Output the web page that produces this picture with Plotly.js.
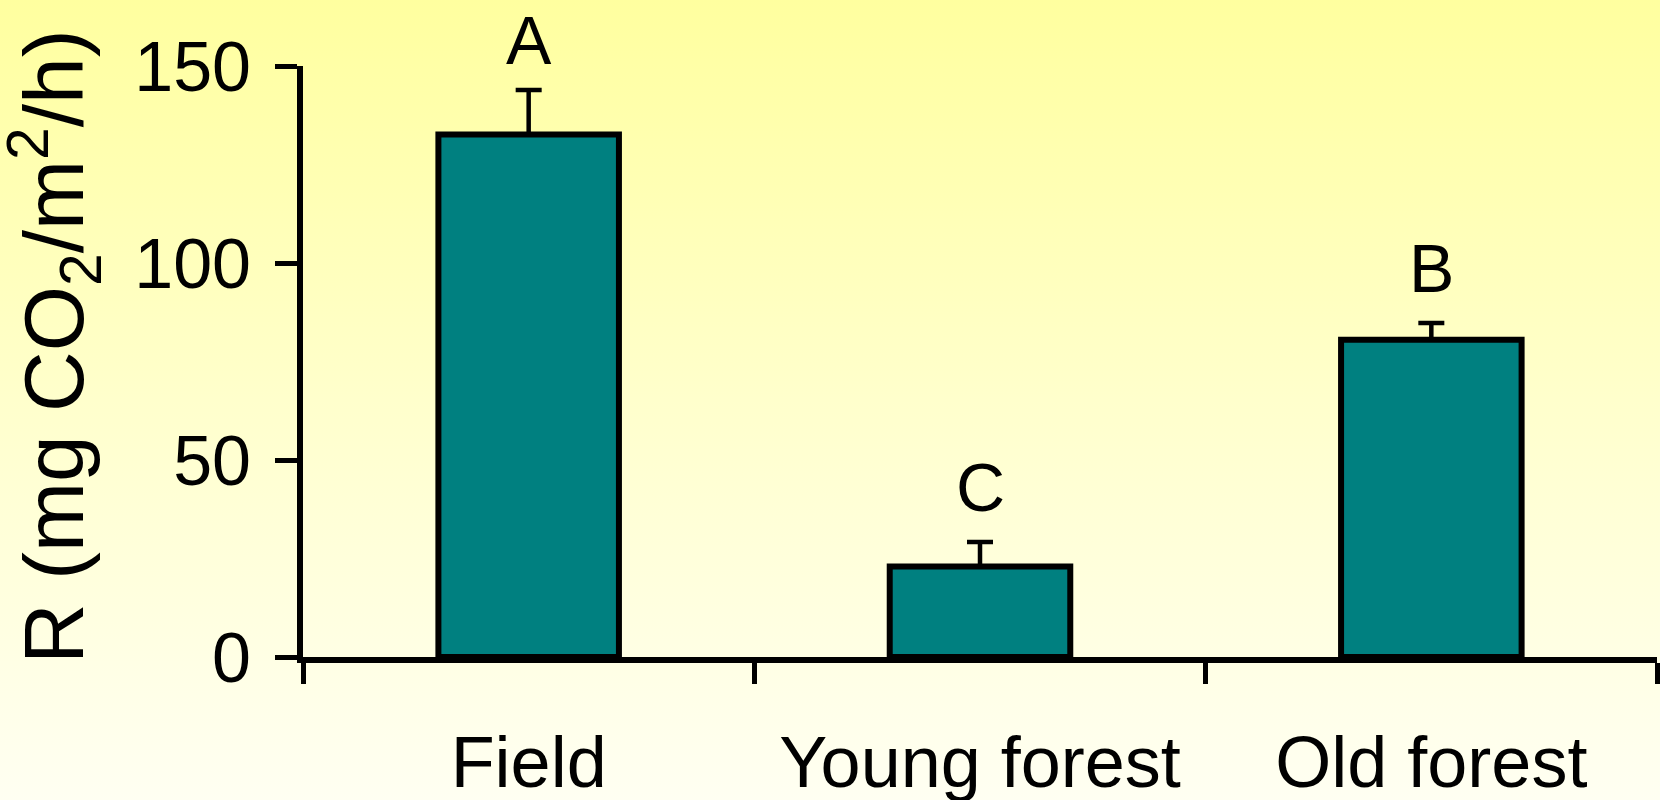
<!DOCTYPE html>
<html>
<head>
<meta charset="utf-8">
<script src="https://cdn.plot.ly/plotly-3.0.1.min.js"></script>
<style>
  html, body { margin: 0; padding: 0; }
  body { width: 1660px; height: 800px; background: linear-gradient(to bottom, #FFFF9F 0%, #FFFFCC 50%, #FFFFF2 100%); }
  #chart { width: 1660px; height: 800px; }
</style>
</head>
<body>
<div id="chart"></div>
<script>
const categories = ["Field", "Young forest", "Old forest"];
const values = [132.6, 23, 80.5];
const errors = [11.3, 6.2, 4.3];
const letters = ["A", "C", "B"];
const letterY = [156.6, 43.1, 98.7];
const yTicks = [0, 50, 100, 150];
const yMax = 150;
const yTitle = "R (mg CO<sub>2</sub>/m<sup>2</sup>/h)";

const FONT = "'Liberation Sans', Arial, sans-serif";

const trace = {
  type: "bar",
  x: categories,
  y: values,
  marker: { color: "#008080", line: { color: "#000000", width: 6 } },
  error_y: {
    type: "data", symmetric: false, array: errors, arrayminus: errors.map(() => 0),
    color: "#000000", thickness: 4.5, width: 13
  },
  hoverinfo: "skip"
};

// letters placed through the y scale (paper fraction of the 0..yMax range)
const annotations = categories.map((c, i) => ({
  x: c, y: letterY[i] / yMax, xref: "x", yref: "paper", text: letters[i],
  showarrow: false, yanchor: "middle", xanchor: "center",
  font: { family: FONT, size: 68, color: "#000" }
}));

// y-axis title
annotations.push({
  x: -0.184, y: 0.526, xref: "paper", yref: "paper", text: yTitle,
  textangle: -90, showarrow: false, xanchor: "center", yanchor: "middle",
  font: { family: FONT, size: 84, color: "#000" }
});

const layout = {
  width: 1660, height: 800,
  paper_bgcolor: "rgba(0,0,0,0)", plot_bgcolor: "rgba(0,0,0,0)",
  margin: { l: 303, r: 3, t: 66, b: 143 },
  showlegend: false,
  bargap: 0.6,
  font: { family: FONT, color: "#000" },
  xaxis: {
    type: "category", range: [-0.5, 2.5],
    showline: true, linecolor: "#000", linewidth: 6,
    ticks: "outside", tickson: "boundaries", ticklen: 21, tickwidth: 5, tickcolor: "#000",
    tickfont: { family: FONT, size: 72 }, ticklabelstandoff: 38,
    showgrid: false, zeroline: false, fixedrange: true
  },
  yaxis: {
    range: [0, yMax], tickvals: yTicks, ticktext: yTicks.map(String),
    showline: true, linecolor: "#000", linewidth: 6,
    ticks: "outside", ticklen: 22, tickwidth: 5, tickcolor: "#000",
    tickfont: { family: FONT, size: 70 }, ticklabelstandoff: 10,
    showgrid: false, zeroline: false, fixedrange: true,
    automargin: false
  },
  annotations: annotations
};

Plotly.newPlot("chart", [trace], layout, { displayModeBar: false, staticPlot: true });
</script>
</body>
</html>
